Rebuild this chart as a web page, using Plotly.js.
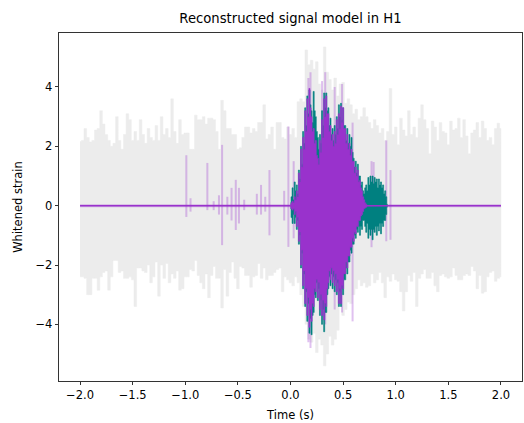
<!DOCTYPE html>
<html>
<head>
<meta charset="utf-8">
<script src="https://cdn.plot.ly/plotly-3.0.1.min.js"></script>
<style>html,body{margin:0;padding:0;background:#fff;}#chart{width:524px;height:423px;}</style>
</head>
<body>
<div id="chart"></div>
<script>
// ---- data ----
// whitened data band: sampled every 0.025 s from -2.0 to 2.0
const bandStart = -2.0, bandStep = 0.025;
const bandUpper = [
 2.16,2.2,2.6,2.3,2.15,2.2,2.55,2.6,3.2,2.75,
 2.4,2.2,2.0,2.1,3.0,2.2,1.9,2.4,3.1,2.9,
 2.2,2.5,2.2,2.9,2.4,2.1,2.6,2.3,2.2,2.7,
 2.2,3.0,2.4,2.6,2.3,3.6,2.5,2.1,2.9,2.4,
 2.45,2.45,1.9,1.9,3.05,2.9,2.9,3.0,2.75,2.95,
 2.95,2.9,2.5,1.9,3.55,3.2,2.6,2.6,2.4,2.4,
 1.9,1.95,2.3,2.65,2.65,2.45,2.6,2.5,2.8,2.8,
 3.4,2.25,2.4,2.65,1.9,2.8,2.8,2.3,2.25,2.65,
 2.4,
 2.6,2.3,3.5,3.6,3.5,5.25,4.75,4.9,4.6,4.85,
 4.1,3.9,5.35,4.5,4.25,3.9,4.3,3.7,4.1,4.15,
 3.45,3.6,3.4,3.1,3.25,2.9,3.0,3.3,3.0,2.8,
 2.6,2.9,2.7,2.45,2.6,2.2,2.5,3.95,2.4,2.65,
 2.05,2.95,2.55,2.35,3.2,2.4,2.65,2.3,2.95,3.4,
 2.9,2.6,1.75,2.85,2.65,2.2,2.8,2.5,2.45,2.05,
 2.85,2.55,2.6,2.95,2.3,2.9,2.35,1.75,2.45,2.55,
 2.8,2.3,2.85,2.6,2.2,2.3,2.05,2.6,2.78,2.6
];
const bandLower = [
 -2.4,-2.4,-2.45,-3.0,-3.0,-2.45,-2.45,-2.85,-2.4,-2.25,
 -2.2,-2.85,-2.4,-1.85,-1.85,-2.25,-2.2,-2.45,-2.45,-2.4,
 -2.5,-3.4,-2.1,-2.1,-2.2,-2.25,-2.0,-2.6,-2.4,-1.9,
 -3.05,-2.0,-2.45,-1.95,-2.6,-2.3,-2.45,-2.2,-2.85,-2.8,
 -2.4,-2.4,-2.15,-2.2,-1.85,-2.35,-2.6,-2.8,-2.3,-3.1,
 -2.35,-2.05,-2.45,-2.45,-3.45,-2.15,-3.05,-2.25,-1.9,-2.45,
 -2.8,-2.05,-2.1,-2.35,-2.35,-2.75,-2.4,-2.35,-1.95,-2.45,
 -2.1,-2.5,-2.35,-2.35,-2.25,-2.15,-2.1,-2.9,-2.4,-2.5,
 -2.6,
 -2.7,-2.4,-2.6,-3.0,-3.4,-4.0,-4.5,-4.6,-4.3,-4.95,
 -4.5,-4.7,-5.4,-5.0,-4.4,-4.7,-4.5,-4.2,-3.4,-3.7,
 -3.5,-3.25,-3.3,-3.0,-2.8,-2.5,-2.7,-2.6,-2.75,-2.7,
 -2.3,-2.6,-2.5,-2.25,-2.6,-3.1,-2.4,-2.55,-2.3,-2.5,
 -2.55,-2.9,-3.55,-2.9,-2.35,-2.55,-2.25,-3.4,-2.45,-2.3,
 -2.15,-2.45,-2.45,-2.25,-2.7,-2.9,-2.35,-2.3,-2.4,-2.45,
 -2.4,-2.1,-2.35,-2.5,-2.5,-2.35,-2.3,-2.35,-2.05,-2.2,
 -2.8,-2.35,-2.95,-2.9,-2.4,-2.25,-2.2,-2.55,-2.45,-2.4
];

// signal burst: sampled every 0.01 s from 0.0 to 0.92
const burstStart = 0.0, burstStep = 0.01;
const tealUpper = [
 0.1,0.3,0.6,0.2,0.8,0.5,0.7,0.4,1.2,0.9,
 2.0,1.4,2.5,2.1,3.3,2.7,3.7,3.1,3.9,3.4,
 3.2,2.8,3.85,3.2,3.0,2.5,2.3,1.9,2.4,2.1,
 3.2,2.7,3.8,3.3,3.8,3.2,3.3,2.7,2.95,2.4,
 2.6,2.2,2.7,2.4,3.0,2.6,3.4,3.0,3.45,2.9,
 3.3,2.7,2.7,2.2,2.6,2.1,2.4,2.0,2.3,1.8,
 1.6,1.3,1.5,1.1,1.4,1.0,1.0,0.7,0.8,0.5,
 0.4,0.6,0.7,0.5,0.95,0.7,1.0,0.8,1.0,0.75,
 0.95,0.8,0.9,0.6,0.9,0.7,0.8,0.6,0.7,0.4,
 0.5,0.3,0.05
];
const tealLower = [
 -0.1,-0.4,-0.6,-0.3,-0.6,-0.4,-0.8,-0.5,-1.3,-1.0,
 -2.1,-1.6,-2.8,-2.3,-3.4,-2.9,-3.9,-3.3,-4.3,-3.8,
 -4.35,-3.7,-3.6,-3.0,-3.1,-2.6,-3.2,-2.8,-3.7,-3.2,
 -4.0,-3.5,-4.25,-3.6,-3.6,-3.0,-2.8,-2.4,-2.7,-2.3,
 -2.8,-2.4,-2.9,-2.5,-3.0,-2.6,-3.4,-2.9,-3.4,-2.8,
 -3.0,-2.5,-2.5,-2.1,-2.3,-1.9,-1.9,-1.5,-1.6,-1.3,
 -1.3,-1.0,-1.1,-0.8,-0.9,-0.7,-1.0,-0.7,-0.8,-0.5,
 -0.5,-0.7,-0.9,-0.6,-1.1,-0.8,-1.0,-0.8,-1.15,-0.8,
 -0.9,-0.7,-1.0,-0.7,-0.85,-0.6,-0.95,-0.6,-0.7,-0.5,
 -0.5,-0.3,-0.05
];
const purpleUpper = [
 0.05,0.1,0.15,0.1,0.3,0.2,0.5,0.3,1.1,0.8,
 1.9,1.3,2.3,1.9,3.2,2.5,3.6,3.0,3.95,3.3,
 3.0,2.5,2.6,2.1,2.2,1.7,1.6,1.4,2.2,1.8,
 2.9,2.3,3.6,3.0,3.7,3.1,3.1,2.5,2.7,2.2,
 2.4,2.0,2.5,2.1,2.9,2.4,3.1,2.6,3.35,2.8,
 3.3,2.6,2.6,2.1,2.4,1.9,2.1,1.7,1.9,1.5,
 1.5,1.1,1.3,1.0,1.2,0.8,0.85,0.6,0.5,0.3,
 0.2,0.1,0.05,0,0,0,0,0,0,0,
 0,0,0,0,0,0,0,0,0,0,
 0,0,0
];
const purpleLower = [
 -0.05,-0.1,-0.15,-0.1,-0.3,-0.2,-0.7,-0.4,-1.2,-0.9,
 -2.0,-1.5,-2.7,-2.2,-3.3,-2.8,-3.7,-3.1,-4.1,-3.5,
 -3.9,-3.3,-3.4,-2.8,-2.9,-2.5,-3.1,-2.6,-3.5,-3.0,
 -3.7,-3.2,-3.85,-3.3,-3.4,-2.8,-2.6,-2.2,-2.5,-2.1,
 -2.6,-2.2,-2.7,-2.3,-2.9,-2.5,-3.3,-2.8,-3.3,-2.7,
 -2.8,-2.3,-2.3,-1.9,-2.1,-1.7,-1.7,-1.4,-1.4,-1.1,
 -1.2,-0.9,-0.95,-0.7,-0.7,-0.5,-0.5,-0.35,-0.3,-0.2,
 -0.1,-0.08,-0.05,0,0,0,0,0,0,0,
 0,0,0,0,0,0,0,0,0,0,
 0,0,0
];

// faint reconstruction samples: time, low, high
const sampleTimes = [-0.99,-0.95,-0.79,-0.73,-0.68,-0.65,-0.6,-0.56,-0.52,-0.49,-0.44,-0.32,-0.28,-0.24,-0.2,-0.06,-0.02,0.03,0.17,0.19,0.3,0.33,0.42,0.49,0.59,0.77,0.79,0.91,0.95];
const sampleLow   = [-0.38,-0.2,-0.15,-0.15,-0.3,-1.33,-0.3,-0.5,-0.82,-0.6,-0.15,-0.3,-0.3,-0.2,-1.0,-0.5,-1.39,-1.1,-4.6,-4.8,-3.5,-4.0,-3.5,-3.6,-3.9,-1.4,-0.9,-1.2,-1.15];
const sampleHigh  = [1.7,0.25,1.44,0.15,0.35,2.05,0.3,0.6,0.87,0.6,0.2,0.4,0.7,0.3,1.2,0.5,2.67,1.5,4.3,4.5,4.2,4.5,4.0,4.1,2.8,1.5,1.47,2.2,1.2];

// median line extent
const lineTimes = [-2.0, 2.0];
const lineValues = [0, 0];

const xTickVals = [-2.0,-1.5,-1.0,-0.5,0.0,0.5,1.0,1.5,2.0];
const xTickText = ['\u22122.0','\u22121.5','\u22121.0','\u22120.5','0.0','0.5','1.0','1.5','2.0'];
const yTickVals = [-4,-2,0,2,4];
const yTickText = ['\u22124','\u22122','0','2','4'];

// ---- build traces ----
function grid(start, step, n){ const a=[]; for(let i=0;i<n;i++) a.push(+(start+i*step).toFixed(4)); return a; }
const bandT = grid(bandStart, bandStep, bandUpper.length);
const burstT = grid(burstStart, burstStep, tealUpper.length);

function poly(t, up, lo){
  return { x: t.concat(t.slice().reverse()), y: up.concat(lo.slice().reverse()) };
}
const bandPoly = poly(bandT, bandUpper, bandLower);
const tealPoly = poly(burstT, tealUpper, tealLower);
const purplePoly = poly(burstT, purpleUpper, purpleLower);

const sx=[], sy=[];
for (let i=0;i<sampleTimes.length;i++){ sx.push(sampleTimes[i],sampleTimes[i],null); sy.push(sampleLow[i],sampleHigh[i],null); }

const PURPLE = '#9932cc';
const traces = [
  {x: bandPoly.x, y: bandPoly.y, type:'scatter', mode:'lines', fill:'toself', fillcolor:'#ececec',
   line:{color:'#ececec', width:0.5, shape:'hvh'}, hoverinfo:'skip'},
  {x: sx, y: sy, type:'scatter', mode:'lines', line:{color:'rgba(153,50,204,0.3)', width:2}, hoverinfo:'skip'},
  {x: lineTimes, y: lineValues, type:'scatter', mode:'lines', line:{color:'rgba(153,50,204,0.3)', width:3}, hoverinfo:'skip'},
  {x: tealPoly.x, y: tealPoly.y, type:'scatter', mode:'lines', fill:'toself', fillcolor:'#008080',
   line:{color:'#008080', width:0.6, shape:'hvh'}, hoverinfo:'skip'},
  {x: purplePoly.x, y: purplePoly.y, type:'scatter', mode:'lines', fill:'toself', fillcolor:PURPLE,
   line:{color:PURPLE, width:0.6, shape:'hvh'}, hoverinfo:'skip'},
  {x: lineTimes, y: lineValues, type:'scatter', mode:'lines', line:{color:PURPLE, width:1.5}, hoverinfo:'skip'}
];

const font = {family:'DejaVu Sans, sans-serif', color:'#000'};
const layout = {
  width:524, height:423,
  margin:{l:59, r:2, t:33, b:42, pad:0},
  paper_bgcolor:'#fff', plot_bgcolor:'#fff',
  showlegend:false,
  font: Object.assign({size:11}, font),
  title:{text:'Reconstructed signal model in H1', font:Object.assign({size:13.2}, font),
         x:0.5, xref:'paper', y:1-18/423, yref:'container', yanchor:'middle'},
  xaxis:{range:[-2.2,2.2], tickvals:xTickVals, ticktext:xTickText, ticks:'outside', ticklen:3.5, tickwidth:0.8,
         tickcolor:'#000', showgrid:false, zeroline:false, showline:true, mirror:true, linecolor:'#000', linewidth:0.8,
         tickfont:Object.assign({size:11.5}, font),
         title:{text:'Time (s)', font:Object.assign({size:11.5}, font), standoff:9}},
  yaxis:{range:[-5.91,5.82], tickvals:yTickVals, ticktext:yTickText, ticks:'outside', ticklen:3.5, tickwidth:0.8,
         tickcolor:'#000', showgrid:false, zeroline:false, showline:true, mirror:true, linecolor:'#000', linewidth:0.8,
         tickfont:Object.assign({size:11.5}, font),
         title:{text:'Whitened strain', font:Object.assign({size:11.5}, font), standoff:10}}
};
Plotly.newPlot('chart', traces, layout, {staticPlot:true, displayModeBar:false});
</script>
</body>
</html>
